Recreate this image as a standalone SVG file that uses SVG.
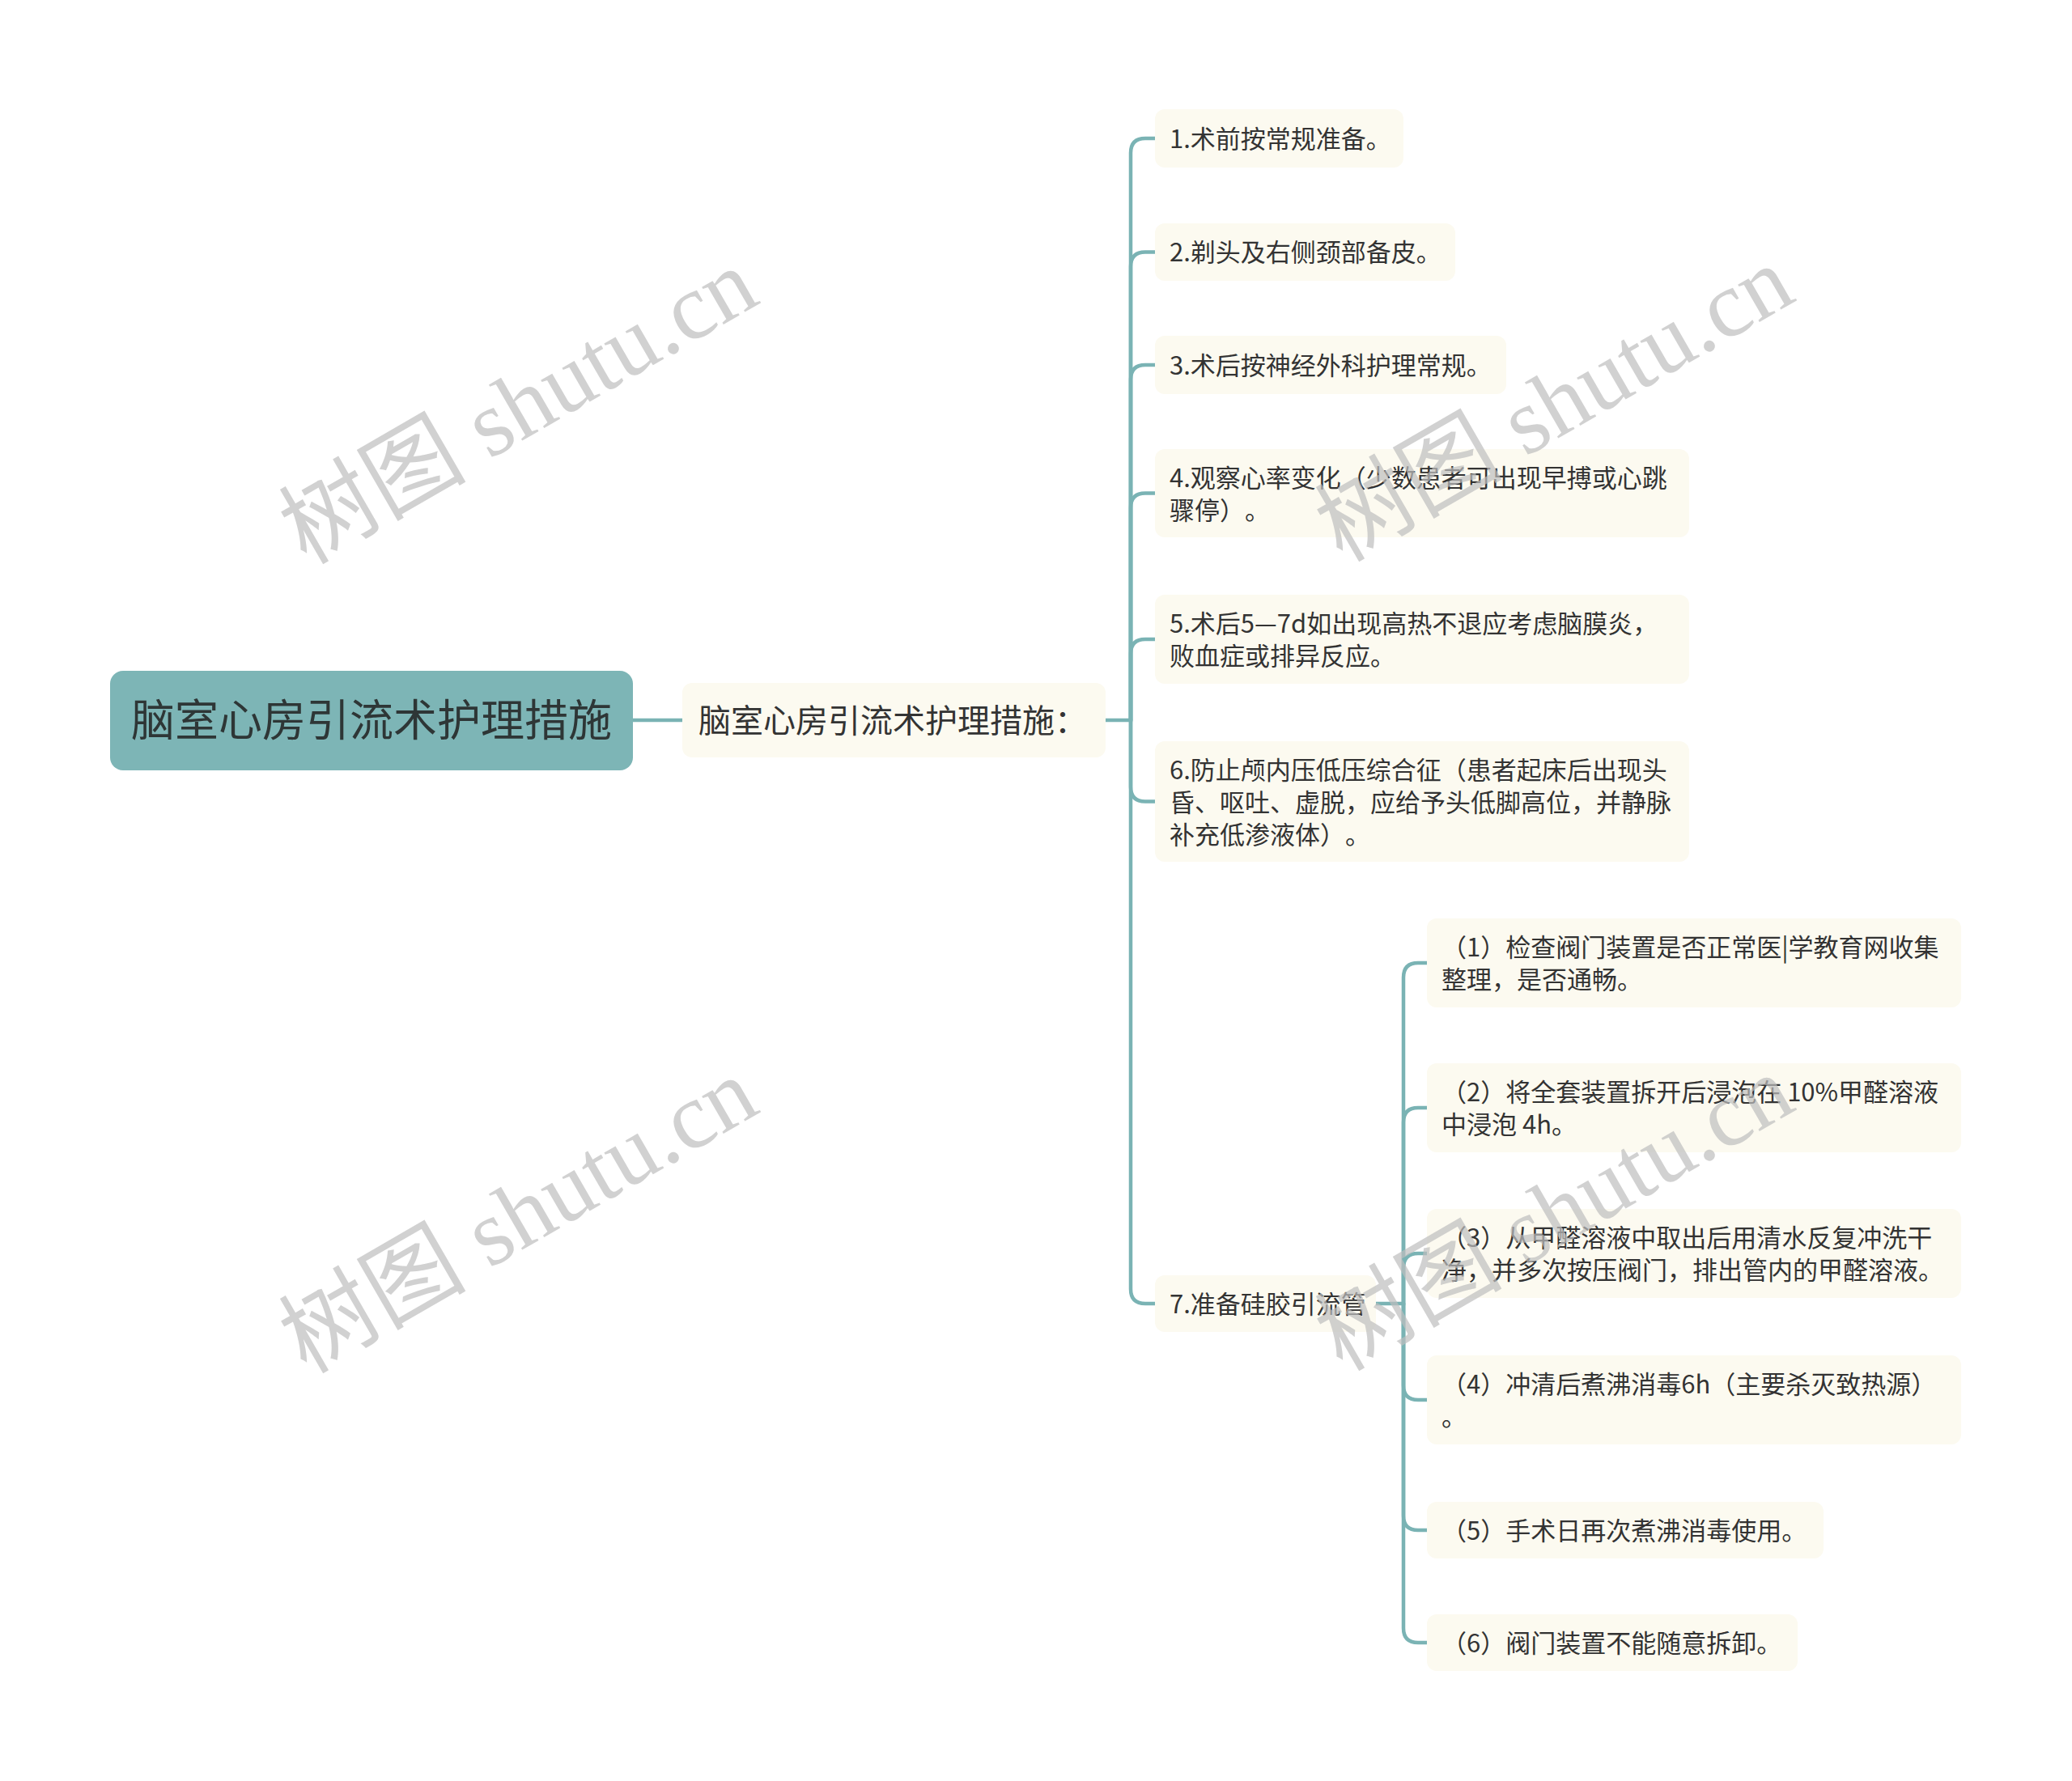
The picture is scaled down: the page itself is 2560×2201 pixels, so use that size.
<svg xmlns="http://www.w3.org/2000/svg" width="2560" height="2201" viewBox="0 0 2560 2201">
<style>
.box{fill:#FCFAF0}
.root{fill:#7DB5B6}
text{text-spacing-trim:space-all}
.t{font-family:"Noto Sans CJK SC","Noto Sans",sans-serif;font-size:31px;fill:#333333}
.ts{font-family:"Noto Sans CJK SC","Noto Sans",sans-serif;font-size:40px;fill:#333333}
.tr{font-family:"Noto Sans CJK SC","Noto Sans",sans-serif;font-size:54px;fill:#2E3636}
.ln{fill:none;stroke:#7AB3B4;stroke-width:4.5;stroke-linecap:round}
.wm{font-family:"Liberation Serif","Noto Sans CJK SC",serif;font-size:116px;fill:#BDBDBD;fill-opacity:0.7}
</style>
<rect width="2560" height="2201" fill="#FFFFFF"/>
<g id="connectors">
<path class="ln" d="M782 890 H843"/>
<path class="ln" d="M1366 890 H1397 V189 Q1397 171 1415 171 H1427"/>
<path class="ln" d="M1397 890 V329.5 Q1397 311.5 1415 311.5 H1427"/>
<path class="ln" d="M1397 890 V469 Q1397 451 1415 451 H1427"/>
<path class="ln" d="M1397 890 V627.5 Q1397 609.5 1415 609.5 H1427"/>
<path class="ln" d="M1397 890 V808 Q1397 790 1415 790 H1427"/>
<path class="ln" d="M1397 890 V972.5 Q1397 990.5 1415 990.5 H1427"/>
<path class="ln" d="M1397 890 V1593 Q1397 1611 1415 1611 H1427"/>
<path class="ln" d="M1700 1611 H1734 V1208 Q1734 1190 1752 1190 H1763"/>
<path class="ln" d="M1734 1611 V1387 Q1734 1369 1752 1369 H1763"/>
<path class="ln" d="M1734 1611 V1567 Q1734 1549 1752 1549 H1763"/>
<path class="ln" d="M1734 1611 V1712 Q1734 1730 1752 1730 H1763"/>
<path class="ln" d="M1734 1611 V1873 Q1734 1891 1752 1891 H1763"/>
<path class="ln" d="M1734 1611 V2012 Q1734 2030 1752 2030 H1763"/>
</g>
<g id="root">
<rect class="root" x="136" y="829" width="646" height="123" rx="16"/>
<text class="tr" x="459" y="910" text-anchor="middle">脑室心房引流术护理措施</text>
</g>
<g id="sub">
<rect class="box" x="843" y="844" width="523" height="92" rx="12"/>
<text class="ts" x="863" y="905">脑室心房引流术护理措施：</text>
</g>
<g id="item1">
<rect class="box" x="1427" y="135" width="307" height="72" rx="12"/>
<text class="t" x="1445" y="183">1.术前按常规准备。</text>
</g>
<g id="item2">
<rect class="box" x="1427" y="276" width="371" height="71" rx="12"/>
<text class="t" x="1445" y="323">2.剃头及右侧颈部备皮。</text>
</g>
<g id="item3">
<rect class="box" x="1427" y="415" width="434" height="72" rx="12"/>
<text class="t" x="1445" y="463">3.术后按神经外科护理常规。</text>
</g>
<g id="item4">
<rect class="box" x="1427" y="555" width="660" height="109" rx="12"/>
<text class="t" x="1445" y="602">4.观察心率变化（少数患者可出现早搏或心跳</text>
<text class="t" x="1445" y="642">骤停）。</text>
</g>
<g id="item5">
<rect class="box" x="1427" y="735" width="660" height="110" rx="12"/>
<text class="t" x="1445" y="782">5.术后5—7d如出现高热不退应考虑脑膜炎，</text>
<text class="t" x="1445" y="822">败血症或排异反应。</text>
</g>
<g id="item6">
<rect class="box" x="1427" y="916" width="660" height="149" rx="12"/>
<text class="t" x="1445" y="963">6.防止颅内压低压综合征（患者起床后出现头</text>
<text class="t" x="1445" y="1003">昏、呕吐、虚脱，应给予头低脚高位，并静脉</text>
<text class="t" x="1445" y="1043">补充低渗液体）。</text>
</g>
<g id="item7">
<rect class="box" x="1427" y="1576" width="273" height="70" rx="12"/>
<text class="t" x="1445" y="1623">7.准备硅胶引流管</text>
</g>
<g id="sub1">
<rect class="box" x="1763" y="1135" width="660" height="110" rx="12"/>
<text class="t" x="1781" y="1182">（1）检查阀门装置是否正常医|学教育网收集</text>
<text class="t" x="1781" y="1222">整理，是否通畅。</text>
</g>
<g id="sub2">
<rect class="box" x="1763" y="1314" width="660" height="110" rx="12"/>
<text class="t" x="1781" y="1361">（2）将全套装置拆开后浸泡在 10%甲醛溶液</text>
<text class="t" x="1781" y="1401">中浸泡 4h。</text>
</g>
<g id="sub3">
<rect class="box" x="1763" y="1494" width="660" height="110" rx="12"/>
<text class="t" x="1781" y="1541">（3）从甲醛溶液中取出后用清水反复冲洗干</text>
<text class="t" x="1781" y="1581">净，并多次按压阀门，排出管内的甲醛溶液。</text>
</g>
<g id="sub4">
<rect class="box" x="1763" y="1675" width="660" height="110" rx="12"/>
<text class="t" x="1781" y="1722">（4）冲清后煮沸消毒6h（主要杀灭致热源）</text>
<text class="t" x="1781" y="1762">。</text>
</g>
<g id="sub5">
<rect class="box" x="1763" y="1856" width="490" height="70" rx="12"/>
<text class="t" x="1781" y="1903">（5）手术日再次煮沸消毒使用。</text>
</g>
<g id="sub6">
<rect class="box" x="1763" y="1995" width="458" height="70" rx="12"/>
<text class="t" x="1781" y="2042">（6）阀门装置不能随意拆卸。</text>
</g>
<g id="watermarks">
<text class="wm" x="660" y="536" text-anchor="middle" transform="rotate(-30 660 536)">树图 shutu.cn</text>
<text class="wm" x="1940" y="533" text-anchor="middle" transform="rotate(-30 1940 533)">树图 shutu.cn</text>
<text class="wm" x="660" y="1536" text-anchor="middle" transform="rotate(-30 660 1536)">树图 shutu.cn</text>
<text class="wm" x="1940" y="1533" text-anchor="middle" transform="rotate(-30 1940 1533)">树图 shutu.cn</text>
</g>
</svg>
